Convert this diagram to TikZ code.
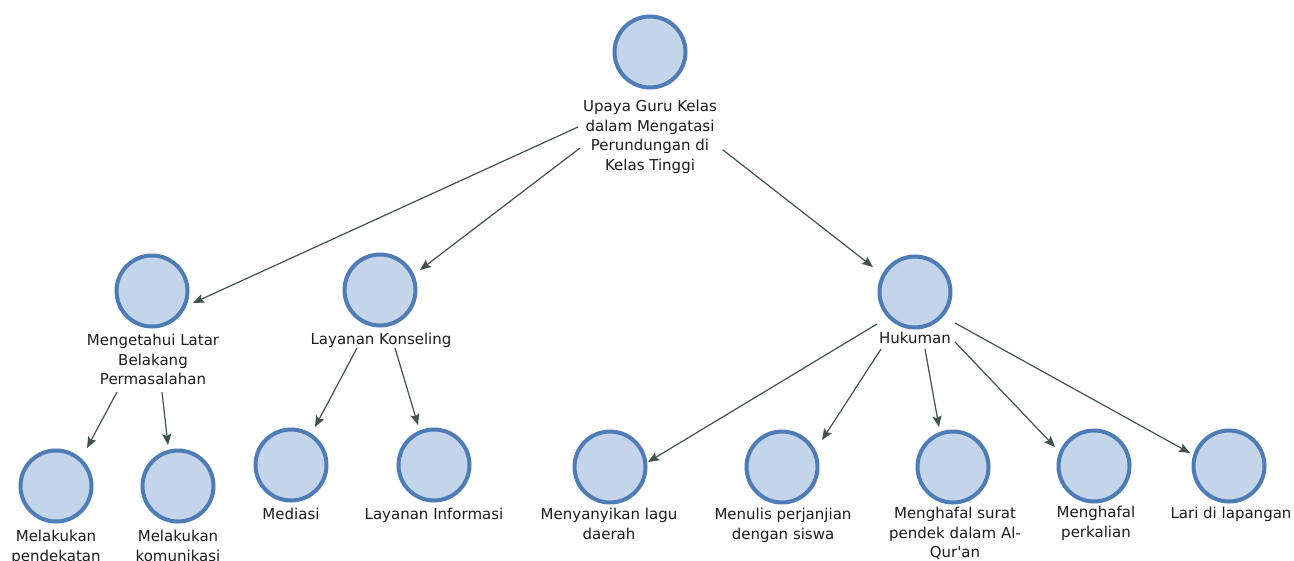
\documentclass[tikz,border=0pt]{standalone}
\usepackage{fontspec}
\newfontfamily\labelfont{DejaVu Sans}
\usetikzlibrary{calc,arrows.meta}

\definecolor{nodefill}{RGB}{196,212,234}
\definecolor{nodeedge}{RGB}{78,124,182}
\definecolor{linkcol}{RGB}{62,84,74}
\definecolor{txt}{RGB}{28,28,28}

\tikzset{
  topic/.style={circle, draw=nodeedge, fill=nodefill, line width=4pt,
                minimum size=71pt, inner sep=0pt},
  caption/.style={anchor=north, align=center, inner sep=0pt, text=txt,
                  font={\labelfont\fontsize{15}{19.5}\selectfont}},
  link/.style={draw=linkcol, line width=1.2pt,
               -{Stealth[length=11pt,width=9pt,inset=2pt]}}
}

\begin{document}
\begin{tikzpicture}[x=1pt,y=-1pt]
\useasboundingbox[fill=white] (0,0) rectangle (1294,560);

% level 0
\node[topic] (root) at (650,52) {};
\node[caption] (root-t) at (650,100) {Upaya Guru Kelas\\dalam Mengatasi\\Perundungan di\\Kelas Tinggi};

% level 1
\node[topic] (latar) at (152,291) {};
\node[caption] (latar-t) at (153,334) {Mengetahui Latar\\Belakang\\Permasalahan};
\node[topic] (kons) at (380,290) {};
\node[caption] (kons-t) at (381,333) {Layanan Konseling};
\node[topic] (huk) at (915,292) {};
\node[caption] (huk-t) at (915,332) {Hukuman};

% level 2
\node[topic] (pend) at (56,486) {};
\node[caption] (pend-t) at (56,530) {Melakukan\\pendekatan};
\node[topic] (kom) at (178,486) {};
\node[caption] (kom-t) at (178,530) {Melakukan\\komunikasi};
\node[topic] (med) at (291,465) {};
\node[caption] (med-t) at (291,508) {Mediasi};
\node[topic] (info) at (434,465) {};
\node[caption] (info-t) at (434,508) {Layanan Informasi};
\node[topic] (lagu) at (610,467) {};
\node[caption] (lagu-t) at (609,508) {Menyanyikan lagu\\daerah};
\node[topic] (janji) at (782,467) {};
\node[caption] (janji-t) at (783,508) {Menulis perjanjian\\dengan siswa};
\node[topic] (surat) at (953,467) {};
\node[caption] (surat-t) at (955,507) {Menghafal surat\\pendek dalam Al-\\Qur'an};
\node[topic] (kali) at (1094,466) {};
\node[caption] (kali-t) at (1096,506) {Menghafal\\perkalian};
\node[topic] (lari) at (1229,466) {};
\node[caption] (lari-t) at (1231,507) {Lari di lapangan};

% connectors
\draw[link] ($(root)+(-72,75)$) -- ($(latar)+(41,12)$);
\draw[link] ($(root)+(-70,96)$) -- ($(kons)+(40,-20)$);
\draw[link] ($(root)+(73,98)$) -- ($(huk)+(-42,-25)$);

\draw[link] ($(latar)+(-35,101)$) -- ($(pend)+(31,-38)$);
\draw[link] ($(latar)+(10,101)$) -- ($(kom)+(-10,-41)$);

\draw[link] ($(kons)+(-23,58)$) -- ($(med)+(24,-38)$);
\draw[link] ($(kons)+(15,58)$) -- ($(info)+(-16,-40)$);

\draw[link] ($(huk)+(-38,32)$) -- ($(lagu)+(38,-5)$);
\draw[link] ($(huk)+(-34,57)$) -- ($(janji)+(40,-27)$);
\draw[link] ($(huk)+(10,57)$) -- ($(surat)+(-14,-40)$);
\draw[link] ($(huk)+(40,50)$) -- ($(kali)+(-39,-19)$);
\draw[link] ($(huk)+(40,31)$) -- ($(lari)+(-39,-13)$);
\end{tikzpicture}
\end{document}
